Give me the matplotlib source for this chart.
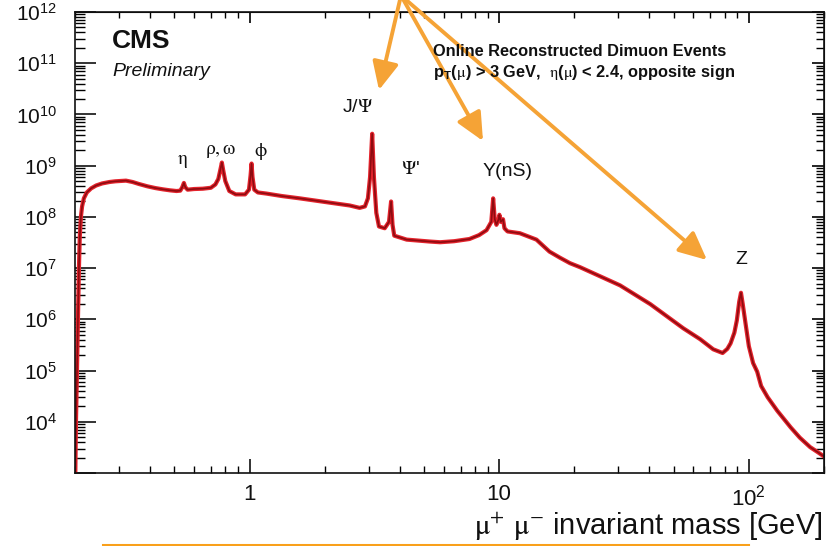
import numpy as np
import matplotlib
matplotlib.use("Agg")
import matplotlib.pyplot as plt
from matplotlib.lines import Line2D
from matplotlib.ticker import FixedLocator, LogLocator, NullFormatter

# -----------------------------
# Data: dimuon invariant mass spectrum
# -----------------------------
mass_gev = [
    0.200, 0.2018, 0.2037, 0.2055, 0.2074, 0.209, 0.2112, 0.2135, 0.217, 0.223,
    0.232, 0.243, 0.257, 0.275, 0.29, 0.32, 0.34, 0.36, 0.39, 0.42,
    0.45, 0.48, 0.51, 0.528, 0.538, 0.546, 0.553, 0.565, 0.60, 0.65,
    0.70, 0.73, 0.75, 0.765, 0.775, 0.785, 0.80, 0.83, 0.88, 0.96,
    0.995, 1.010, 1.019, 1.028, 1.045, 1.08, 1.17, 1.35, 1.59, 2.09,
    2.52, 2.76, 2.90, 2.98, 3.04, 3.10, 3.15, 3.22, 3.30, 3.48,
    3.62, 3.69, 3.74, 3.80, 4.26, 5.28, 5.8, 6.6, 7.6, 8.3,
    8.9, 9.3, 9.46, 9.6, 9.75, 9.95, 10.02, 10.15, 10.36, 10.5,
    10.8, 12.1, 14.1, 15.9, 17.5, 19.2, 21.1, 25.4, 30.5, 40.3,
    54.6, 63.8, 72.0, 78.5, 82.0, 84.5, 87.5, 89.5, 91.5, 93.0,
    94.5, 96.7, 100.0, 104.0, 108.0, 112.0, 119.0, 130.0, 147.0, 160.0,
    176.0, 190.0, 206.0,
]
events = [
    3e2, 1e4, 1e5, 1e6, 1e7, 4e7, 1e8, 1.6e8, 2.3e8, 3.0e8,
    3.6e8, 4.1e8, 4.5e8, 4.8e8, 4.95e8, 5.1e8, 4.8e8, 4.4e8, 3.95e8, 3.65e8,
    3.45e8, 3.3e8, 3.2e8, 3.25e8, 3.8e8, 4.6e8, 3.8e8, 3.4e8, 3.5e8, 3.55e8,
    3.7e8, 4.3e8, 5.5e8, 8.5e8, 1.15e9, 8.0e8, 5.0e8, 3.2e8, 2.75e8, 2.75e8,
    3.4e8, 6.5e8, 1.1e9, 6.0e8, 3.4e8, 3.0e8, 2.85e8, 2.55e8, 2.3e8, 1.9e8,
    1.67e8, 1.5e8, 1.6e8, 2.3e8, 6.0e8, 4.2e9, 6.0e8, 1.2e8, 6.5e7, 6.0e7,
    8.0e7, 2.0e8, 7.0e7, 4.3e7, 3.6e7, 3.3e7, 3.2e7, 3.35e7, 3.7e7, 4.4e7,
    5.5e7, 8.0e7, 2.3e8, 9.0e7, 7.0e7, 9.0e7, 1.1e8, 8.0e7, 9.0e7, 6.0e7,
    5.2e7, 4.8e7, 3.6e7, 2.1e7, 1.6e7, 1.25e7, 1.04e7, 6.9e6, 4.6e6, 1.98e6,
    6.7e5, 4.1e5, 2.6e5, 2.2e5, 2.65e5, 3.4e5, 5.5e5, 9.5e5, 2.2e6, 3.3e6,
    2.0e6, 9.2e5, 3.0e5, 1.4e5, 9.5e4, 5.0e4, 3.0e4, 1.64e4, 7.8e3, 4.9e3,
    3.2e3, 2.5e3, 1.9e3,
]

x_ticks = [1, 10, 100]
x_tick_labels = ["1", "10", r"$\mathregular{10^{2}}$"]
y_ticks = [1e3, 1e4, 1e5, 1e6, 1e7, 1e8, 1e9, 1e10, 1e11, 1e12]
y_tick_labels = [""] + [r"$\mathregular{10^{%d}}$" % p for p in range(4, 13)]

# resonance labels: text, pixel x, pixel y (from top-left)
peak_labels = [
    (r"$\mathrm{\eta}$", 182, 161),
    (r"$\mathrm{\rho,\omega}$", 221, 151),
    (r"$\mathrm{\phi}$", 261, 152),
    (r"J/$\mathrm{\Psi}$", 358, 108),
    (r"$\mathrm{\Psi}$'", 411, 170),
    ("Y(nS)", 508, 171),
    ("Z", 741, 259),
]

# -----------------------------
# Plot
# -----------------------------
plt.rcParams["font.family"] = "Liberation Sans"
plt.rcParams["mathtext.fontset"] = "stix"

W, H = 827, 546
fig = plt.figure(figsize=(W / 100, H / 100), dpi=100, facecolor="white")
ax = fig.add_axes([75 / W, 73 / H, 749 / W, 461 / H])


def px(x, y):
    # pixel position (from top-left) -> figure fraction
    return x / W, 1 - y / H


ax.plot(mass_gev, events, color="#E3232C", linewidth=3.0,
        solid_joinstyle="round", solid_capstyle="round")
ax.plot(mass_gev, events, color="#8E0B10", linewidth=1.2,
        solid_joinstyle="round", solid_capstyle="round")

ax.set_xscale("log")
ax.set_yscale("log")
ax.set_xlim(0.2, 200)
ax.set_ylim(1e3, 1e12)

ax.set_xticks(x_ticks, x_tick_labels)
ax.set_yticks(y_ticks, y_tick_labels)
ax.xaxis.set_minor_locator(LogLocator(base=10, subs=np.arange(2, 10), numticks=30))
ax.yaxis.set_minor_locator(LogLocator(base=10, subs=np.arange(2, 10), numticks=30))
ax.xaxis.set_minor_formatter(NullFormatter())
ax.yaxis.set_minor_formatter(NullFormatter())

ax.tick_params(axis="x", which="major", direction="in", length=10, width=1.2,
               labelsize=16, pad=8, colors="#111111")
ax.tick_params(axis="x", which="minor", direction="in", length=5, width=1.0)
ax.tick_params(axis="y", which="major", direction="in", length=15, width=1.2,
               labelsize=15, pad=13, colors="#111111")
ax.tick_params(axis="y", which="minor", direction="in", length=7.5, width=1.0)

for s in ax.spines.values():
    s.set_linewidth(1.2)
    s.set_color("#111111")

# ticks on the top and right frame (shorter, no labels)
ident = (lambda v: v, lambda v: v)
secx = ax.secondary_xaxis("top", functions=ident)
secx.xaxis.set_major_locator(FixedLocator(x_ticks))
secx.xaxis.set_minor_locator(LogLocator(base=10, subs=np.arange(2, 10), numticks=30))
secx.xaxis.set_major_formatter(NullFormatter())
secx.xaxis.set_minor_formatter(NullFormatter())
secx.tick_params(which="major", direction="in", length=8, width=1.2)
secx.tick_params(which="minor", direction="in", length=4, width=1.0)

secy = ax.secondary_yaxis("right", functions=ident)
secy.yaxis.set_major_locator(FixedLocator(y_ticks))
secy.yaxis.set_minor_locator(LogLocator(base=10, subs=np.arange(2, 10), numticks=30))
secy.yaxis.set_major_formatter(NullFormatter())
secy.yaxis.set_minor_formatter(NullFormatter())
secy.tick_params(which="major", direction="in", length=9, width=1.2)
secy.tick_params(which="minor", direction="in", length=6, width=1.0)

# -----------------------------
# Text
# -----------------------------
fig.text(*px(112, 41), "CMS", fontsize=19, fontweight="bold", va="center",
         color="#111111")
fig.text(*px(112, 72), "Preliminary", fontsize=14, style="italic", va="center",
         color="#111111")
fig.text(*px(433, 52), "Online Reconstructed Dimuon Events", fontsize=11.8,
         fontweight="bold", va="center", color="#111111")
fig.text(*px(433, 72),
         r"p$_\mathregular{T}$($\mathrm{\mu}$) > 3 GeV,  $\mathrm{\eta}$($\mathrm{\mu}$) < 2.4, opposite sign",
         fontsize=11.8, fontweight="bold", va="center", color="#111111")

for label, lx, ly in peak_labels:
    fig.text(*px(lx, ly), label, fontsize=14, ha="center", va="center",
             color="#111111")

fig.text(*px(823, 534),
         r"$\mathrm{\mu^{+}}$ $\mathrm{\mu^{-}}$ invariant mass [GeV]",
         fontsize=21, ha="right", va="baseline", color="#111111")

# -----------------------------
# Orange call-out arrows and underline
# -----------------------------
orange = "#F5A336"
origin = px(401, -4.5)
for tip in [(379, 90), (483, 141), (707, 260)]:
    ax.annotate("", xy=px(*tip), xycoords="figure fraction",
                xytext=origin, textcoords="figure fraction",
                arrowprops=dict(arrowstyle="-|>,head_length=0.85,head_width=0.4",
                                color=orange, lw=2.8, shrinkA=0, shrinkB=0,
                                mutation_scale=20),
                annotation_clip=False)

fig.add_artist(Line2D([103 / W, 748 / W], [1.5 / H, 1.5 / H], color="#F9A01B",
                      linewidth=2.2, transform=fig.transFigure))

fig.savefig("out.png", dpi=100, facecolor="white")
